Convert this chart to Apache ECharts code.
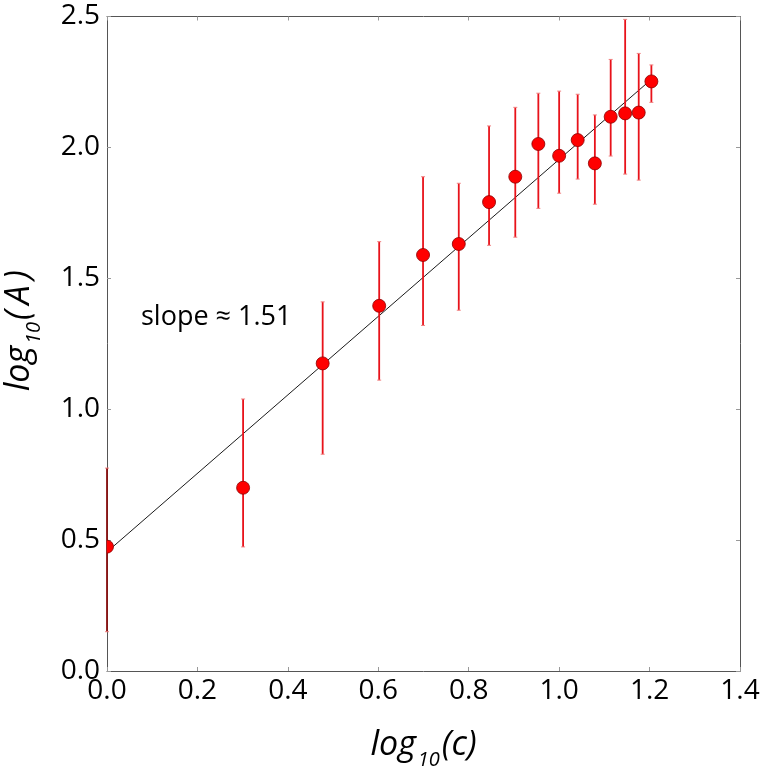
<!DOCTYPE html>
<html>
<head>
<meta charset="utf-8">
<script src="https://cdn.jsdelivr.net/npm/echarts@6/dist/echarts.min.js"></script>
<style>html,body{margin:0;padding:0;background:#fff}#c{width:765px;height:776px}</style>
</head>
<body>
<div id="c"></div>
<script>
var xLog = [0, 0.301, 0.477, 0.602, 0.699, 0.778, 0.845, 0.903, 0.954, 1.0, 1.041, 1.079, 1.114, 1.146, 1.176, 1.204];
var yLog = [0.475, 0.70, 1.175, 1.395, 1.589, 1.631, 1.791, 1.888, 2.013, 1.968, 2.028, 1.939, 2.117, 2.130, 2.133, 2.252];
var yLow = [0.15, 0.474, 0.828, 1.111, 1.32, 1.378, 1.626, 1.657, 1.767, 1.825, 1.879, 1.783, 1.967, 1.898, 1.875, 2.172];
var yHigh = [0.775, 1.039, 1.41, 1.64, 1.888, 1.863, 2.082, 2.153, 2.207, 2.215, 2.203, 2.124, 2.336, 2.489, 2.359, 2.315];
var fitX = [0, 1.204];
var fitY = [0.455, 2.26];
var annotation = 'slope \u2248 1.51';

var FONT = 'Open Sans';
var errData = xLog.map(function (x, i) { return [x, yLow[i], yHigh[i]]; });
var ptData = xLog.map(function (x, i) { return [x, yLog[i]]; });
var fitData = fitX.map(function (x, i) { return [x, fitY[i]]; });

var chart = echarts.init(document.getElementById('c'), null, {renderer: 'canvas'});
var axisLine = {show: true, onZero: false, lineStyle: {color: '#555', width: 1}};
var tick = {show: true, inside: true, length: 4, lineStyle: {color: '#999'}};
var nameRich = {
  f: {fontFamily: FONT, fontStyle: 'italic', fontSize: 34, color: '#000', verticalAlign: 'bottom', padding: [0, 0, 8, 0]},
  m: {fontFamily: FONT, fontStyle: 'italic', fontSize: 34, color: '#000', verticalAlign: 'bottom', padding: [0, 0, 8, 0]},
  s: {fontFamily: FONT, fontStyle: 'italic', fontSize: 20, color: '#000', verticalAlign: 'bottom', padding: [0, 2, 0, 2]}
};
var yNameRich = {
  f: {fontFamily: FONT, fontStyle: 'italic', fontSize: 34, color: '#000', verticalAlign: 'bottom', padding: [0, 0, 8, 26]},
  m: nameRich.m,
  s: nameRich.s
};
chart.setOption({
  animation: false,
  backgroundColor: '#fff',
  grid: {left: 107, top: 16.5, right: 25, bottom: 105, containLabel: false, outerBoundsMode: 'none'},
  xAxis: [{
    type: 'value', min: 0, max: 1.4, interval: 0.2,
    axisLine: axisLine, axisTick: tick, splitLine: {show: false},
    axisLabel: {fontFamily: FONT, fontSize: 28, color: '#000', margin: 6, formatter: function (v) { return v.toFixed(1); }},
    name: '{f|log}{s|10}{m|(c)}', nameLocation: 'middle', nameGap: 57,
    nameTextStyle: {rich: nameRich}
  }, {
    type: 'value', position: 'top', min: 0, max: 1.4, interval: 0.2,
    axisLine: axisLine, axisTick: tick, axisLabel: {show: false}, splitLine: {show: false}
  }],
  yAxis: [{
    type: 'value', min: 0, max: 2.5, interval: 0.5,
    axisLine: axisLine, axisTick: tick, splitLine: {show: false},
    axisLabel: {fontFamily: FONT, fontSize: 28, color: '#000', margin: 7, formatter: function (v) { return v.toFixed(1); }},
    name: '{f|log}{s|10}{m|(\u2009A\u2009)}', nameLocation: 'middle', nameGap: 63, nameRotate: 90,
    nameTextStyle: {rich: yNameRich}
  }, {
    type: 'value', position: 'right', min: 0, max: 2.5, interval: 0.5,
    axisLine: axisLine, axisTick: tick, axisLabel: {show: false}, splitLine: {show: false}
  }],
  series: [{
    type: 'line', data: fitData, symbol: 'none', z: 2,
    lineStyle: {color: '#000', width: 0.9}
  }, {
    type: 'custom', data: errData, clip: false, z: 3,
    renderItem: function (params, api) {
      var x = api.value(0);
      var lo = api.coord([x, api.value(1)]);
      var hi = api.coord([x, api.value(2)]);
      var col = x === 0 ? '#8a1010' : '#e8121a';
      var st = {stroke: col, lineWidth: 1.8};
      var cap = {stroke: '#f08080', lineWidth: 1};
      return {type: 'group', children: [
        {type: 'line', shape: {x1: lo[0], y1: lo[1], x2: hi[0], y2: hi[1]}, style: st},
        {type: 'line', shape: {x1: lo[0] - 2, y1: lo[1], x2: lo[0] + 2, y2: lo[1]}, style: cap},
        {type: 'line', shape: {x1: hi[0] - 2, y1: hi[1], x2: hi[0] + 2, y2: hi[1]}, style: cap}
      ]};
    }
  }, {
    type: 'custom', data: ptData, clip: true, z: 4,
    renderItem: function (params, api) {
      var p = api.coord([api.value(0), api.value(1)]);
      return {type: 'circle', shape: {cx: p[0], cy: p[1], r: 6.5},
        style: {fill: '#ff0000', stroke: '#8a0000', lineWidth: 0.8}};
    }
  }],
  graphic: [{
    type: 'text', left: 141, top: 304,
    style: {text: annotation, fontFamily: FONT, fontSize: 27, fill: '#000'}
  }]
});
</script>
</body>
</html>
